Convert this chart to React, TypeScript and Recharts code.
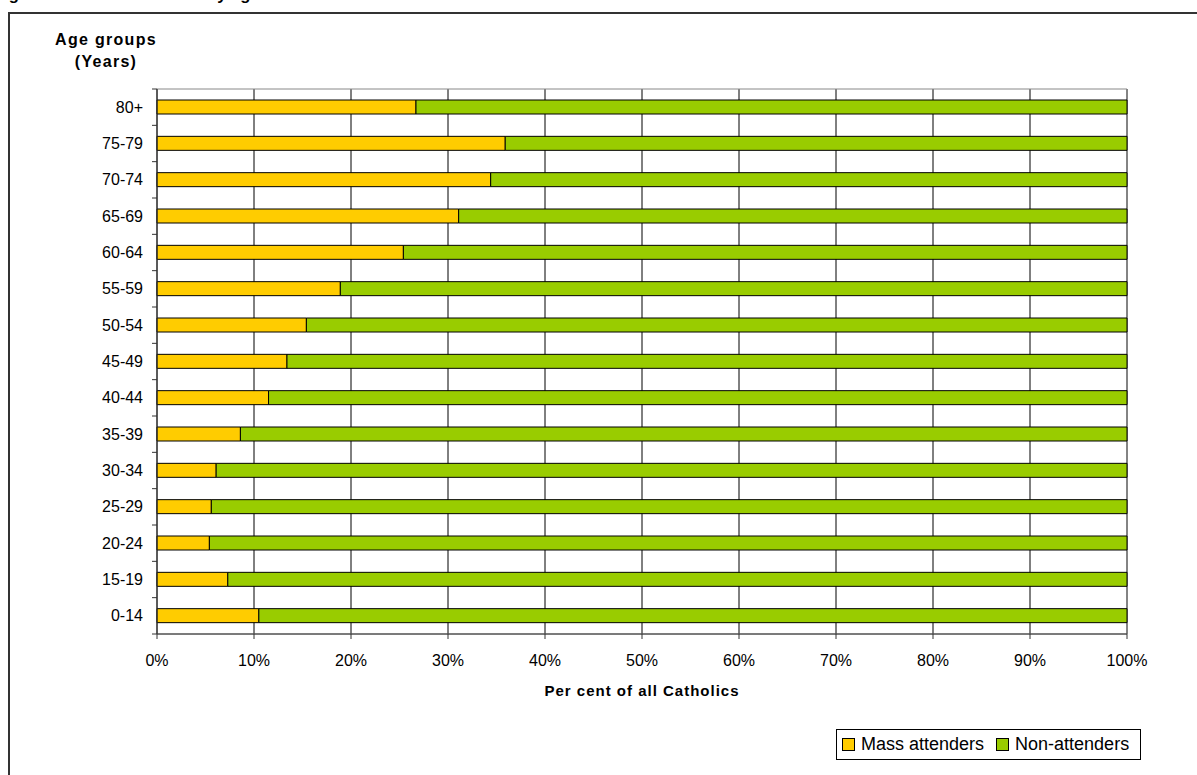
import { BarChart, Bar, XAxis, YAxis, CartesianGrid, Legend, ReferenceArea } from 'recharts';

// Age groups, top to bottom as drawn
const AGE_GROUPS = ['80+', '75-79', '70-74', '65-69', '60-64', '55-59', '50-54', '45-49', '40-44', '35-39', '30-34', '25-29', '20-24', '15-19', '0-14'];

// Per cent of Catholics in each age group who attend Mass
const MASS_ATTENDERS = [26.7, 35.9, 34.4, 31.1, 25.4, 18.9, 15.4, 13.4, 11.5, 8.6, 6.1, 5.6, 5.4, 7.3, 10.5];

// Remaining share of each age group
const NON_ATTENDERS = MASS_ATTENDERS.map(v => +(100 - v).toFixed(1));

const X_TICKS = [0, 10, 20, 30, 40, 50, 60, 70, 80, 90, 100];

const SERIES = [
  { key: 'mass', name: 'Mass attenders', color: '#FFCC00' },
  { key: 'non', name: 'Non-attenders', color: '#99CC00' },
];

const WIDTH = 1197;
const HEIGHT = 775;
const LEGEND_H = 31;
// legend height is reserved by recharts on top of the bottom margin
const MARGIN = { top: 89, right: 70, bottom: 70, left: 87 };
const PLOT_HEIGHT = HEIGHT - MARGIN.top - MARGIN.bottom - LEGEND_H - 40;
const BAND = PLOT_HEIGHT / AGE_GROUPS.length;

const FONT = '"Liberation Sans", Arial, sans-serif';

const data = AGE_GROUPS.map((age, i) => ({
  age,
  mass: MASS_ATTENDERS[i],
  non: NON_ATTENDERS[i],
}));

// y tick: label plus Excel-style tick marks between categories
const AgeTick = ({ x, y, payload, index }: any) => (
  <g>
    <text x={x - 14} y={y} textAnchor="end" dominantBaseline="central" fontSize={16} fill="#000" fontFamily={FONT}>
      {payload.value}
    </text>
    <line x1={x - 5} x2={x} y1={y - BAND / 2} y2={y - BAND / 2} stroke="#333" />
    {index === AGE_GROUPS.length - 1 && (
      <line x1={x - 5} x2={x} y1={y + BAND / 2} y2={y + BAND / 2} stroke="#333" />
    )}
  </g>
);

const LegendBox = () => (
  <div
    style={{
      display: 'flex',
      alignItems: 'center',
      height: LEGEND_H,
      border: '1px solid #000',
      background: '#fff',
      paddingLeft: 5,
      boxSizing: 'border-box',
      fontFamily: FONT,
      fontSize: 18,
      color: '#000',
      whiteSpace: 'nowrap',
    }}
  >
    {SERIES.map(s => (
      <span key={s.key} style={{ display: 'flex', alignItems: 'center', marginRight: 2 }}>
        <span style={{ width: 11, height: 11, border: '1px solid #000', background: s.color, marginRight: 6 }} />
        <span style={{ marginRight: 10 }}>{s.name}</span>
      </span>
    ))}
  </div>
);

export default function App() {
  return (
    <div
      style={{
        position: 'fixed',
        left: 0,
        top: 0,
        width: WIDTH,
        height: HEIGHT,
        overflow: 'hidden',
        background: '#fff',
        fontFamily: FONT,
      }}
    >
      <div
        style={{
          position: 'absolute',
          left: -6,
          top: -15,
          fontSize: 16.6,
          lineHeight: '20px',
          fontWeight: 'bold',
          whiteSpace: 'nowrap',
        }}
      >
        Figure 5: Mass attendance by age
      </div>
      <div
        style={{
          position: 'absolute',
          left: 8,
          top: 12,
          width: 1400,
          height: 1000,
          border: '2px solid #333',
        }}
      />
      <div
        style={{
          position: 'absolute',
          left: 36,
          width: 140,
          top: 29,
          textAlign: 'center',
          fontSize: 16,
          lineHeight: '22px',
          fontWeight: 'bold',
          letterSpacing: 1.3,
        }}
      >
        Age groups
        <br />
        (Years)
      </div>
      <div style={{ position: 'absolute', left: 0, top: 0 }}>
        <BarChart width={WIDTH} height={HEIGHT} data={data} layout="vertical" margin={MARGIN} barSize={14}>
          <CartesianGrid horizontal={false} vertical stroke="#000" />
          <XAxis
            type="number"
            domain={[0, 100]}
            ticks={X_TICKS}
            interval={0}
            tickFormatter={(v: number) => `${v}%`}
            axisLine={{ stroke: '#333' }}
            tickLine={{ stroke: '#333' }}
            tickSize={5}
            tickMargin={16}
            height={40}
            tick={{ fontSize: 16, fill: '#000', fontFamily: FONT }}
            label={{
              value: 'Per cent of all Catholics',
              position: 'bottom',
              offset: 11,
              style: { fontSize: 15, fontWeight: 'bold', fill: '#000', letterSpacing: 1, fontFamily: FONT },
            }}
          />
          <YAxis
            type="category"
            dataKey="age"
            width={70}
            interval={0}
            axisLine={{ stroke: '#333' }}
            tickLine={false}
            tickSize={0}
            tickMargin={0}
            tick={<AgeTick />}
          />
          <ReferenceArea x1={0} x2={100} fill="none" stroke="#888" />
          {SERIES.map(s => (
            <Bar
              key={s.key}
              dataKey={s.key}
              name={s.name}
              stackId="a"
              fill={s.color}
              stroke="#000"
              strokeWidth={1}
              isAnimationActive={false}
            />
          ))}
          <Legend
            content={<LegendBox />}
            wrapperStyle={{ position: 'absolute', left: 836, top: 729, width: 305, height: LEGEND_H, bottom: 'auto' }}
          />
        </BarChart>
      </div>
    </div>
  );
}
